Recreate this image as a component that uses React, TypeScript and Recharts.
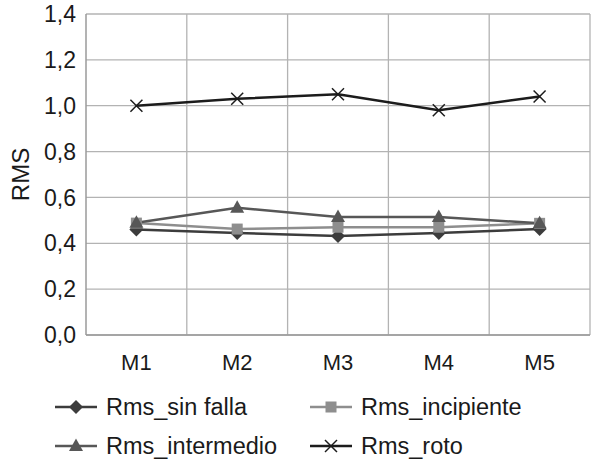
import { LineChart, Line, CartesianGrid, XAxis, YAxis, Legend } from "recharts";

const categories = ["M1", "M2", "M3", "M4", "M5"];
const sinFalla = [0.46, 0.445, 0.432, 0.445, 0.462];
const incipiente = [0.488, 0.462, 0.47, 0.47, 0.487];
const intermedio = [0.49, 0.555, 0.515, 0.515, 0.487];
const roto = [1.0, 1.03, 1.05, 0.98, 1.04];
const yTicks = [0, 0.2, 0.4, 0.6, 0.8, 1.0, 1.2, 1.4];

const data = categories.map((name, i) => ({
  name,
  sinFalla: sinFalla[i],
  incipiente: incipiente[i],
  intermedio: intermedio[i],
  roto: roto[i],
}));

const FONT = "'Liberation Sans', Arial, sans-serif";

type Shape = "diamond" | "square" | "triangle" | "cross";

function Marker({ shape, cx, cy, color }: { shape: Shape; cx: number; cy: number; color: string }) {
  if (shape === "diamond") {
    return <polygon points={`${cx},${cy - 7} ${cx + 7},${cy} ${cx},${cy + 7} ${cx - 7},${cy}`} fill={color} />;
  }
  if (shape === "square") {
    return <rect x={cx - 5.5} y={cy - 5.5} width={11} height={11} fill={color} />;
  }
  if (shape === "triangle") {
    return <polygon points={`${cx},${cy - 7.5} ${cx + 7},${cy + 5} ${cx - 7},${cy + 5}`} fill={color} />;
  }
  return (
    <g stroke={color} strokeWidth={1.5}>
      <line x1={cx - 6} y1={cy - 6} x2={cx + 6} y2={cy + 6} />
      <line x1={cx - 6} y1={cy + 6} x2={cx + 6} y2={cy - 6} />
    </g>
  );
}

const series: { key: string; label: string; color: string; shape: Shape }[] = [
  { key: "sinFalla", label: "Rms_sin falla", color: "#3c3c3c", shape: "diamond" },
  { key: "incipiente", label: "Rms_incipiente", color: "#8e8e8e", shape: "square" },
  { key: "intermedio", label: "Rms_intermedio", color: "#575757", shape: "triangle" },
  { key: "roto", label: "Rms_roto", color: "#1c1c1c", shape: "cross" },
];

function dotFor(shape: Shape, color: string) {
  return (p: any) => <Marker key={`${shape}-${p.index}`} shape={shape} cx={p.cx} cy={p.cy} color={color} />;
}

function LegendBox() {
  const cols = [55, 310];
  const rows = [32, 71];
  return (
    <div style={{ position: "relative", width: 601, height: 91 }}>
      {series.map((s, i) => {
        const left = cols[i % 2];
        const top = rows[Math.floor(i / 2)];
        return (
          <div key={s.key} style={{ position: "absolute", left, top: top - 15, height: 30, display: "flex", alignItems: "center" }}>
            <svg width={44} height={30}>
              <line x1={0} y1={15} x2={42} y2={15} stroke={s.color} strokeWidth={2.5} />
              <Marker shape={s.shape} cx={21} cy={15} color={s.color} />
            </svg>
            <span style={{ marginLeft: 7, fontFamily: FONT, fontSize: 23.5, color: "#1a1a1a", whiteSpace: "nowrap" }}>{s.label}</span>
          </div>
        );
      })}
    </div>
  );
}

export default function App() {
  return (
    <div style={{ position: "absolute", left: 0, top: 0, background: "#fff" }}>
      <LineChart width={601} height={466} data={data} margin={{ top: 14, right: 11, left: 0, bottom: 0 }}>
        <CartesianGrid
          stroke="#b3b3b3"
          strokeWidth={1.3}
          verticalCoordinatesGenerator={({ offset }: any) =>
            categories.map((_, k) => offset.left + ((k + 1) * offset.width) / categories.length)
          }
        />
        <XAxis
          dataKey="name"
          scale="band"
          height={40}
          axisLine={{ stroke: "#9a9a9a", strokeWidth: 1.5 }}
          tickLine={false}
          tickMargin={13}
          tick={{ fontFamily: FONT, fontSize: 22, fill: "#1a1a1a" }}
        />
        <YAxis
          width={86}
          domain={[0, 1.4]}
          ticks={yTicks}
          interval={0}
          axisLine={{ stroke: "#9a9a9a", strokeWidth: 1.5 }}
          tickLine={false}
          tickMargin={4}
          tickFormatter={(v: number) => v.toFixed(1).replace(".", ",")}
          tick={{ fontFamily: FONT, fontSize: 23, fill: "#1a1a1a" }}
          label={{
            content: ({ viewBox }: any) => {
              const x = viewBox.x + 20;
              const y = viewBox.y + viewBox.height / 2;
              return (
                <text x={x} y={y} transform={`rotate(-90 ${x} ${y})`} textAnchor="middle" dominantBaseline="central" fontFamily={FONT} fontSize={24} fill="#1a1a1a">
                  RMS
                </text>
              );
            },
          }}
        />
        <Legend verticalAlign="bottom" align="left" content={() => <LegendBox />} wrapperStyle={{ left: 0, width: 601 }} />
        {series.map((s) => (
          <Line
            key={s.key}
            dataKey={s.key}
            name={s.label}
            type="linear"
            stroke={s.color}
            strokeWidth={2.5}
            dot={dotFor(s.shape, s.color)}
            activeDot={false}
            isAnimationActive={false}
          />
        ))}
      </LineChart>
    </div>
  );
}
